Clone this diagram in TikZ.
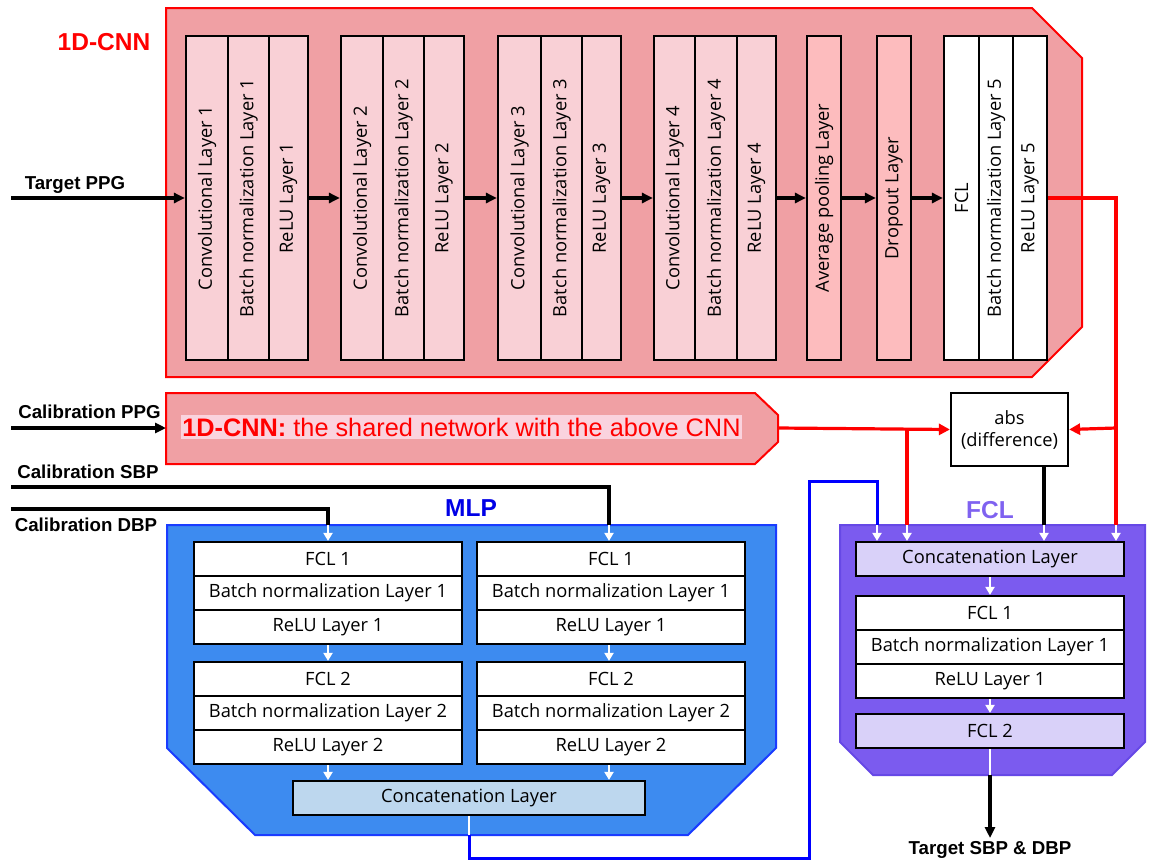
\documentclass[tikz,border=0pt]{standalone}
\usepackage{fontspec}
\setmainfont{Open Sans}
\newfontfamily\arialf{Liberation Sans}
\usetikzlibrary{arrows.meta}
\definecolor{cnnfill}{HTML}{F0A0A4}
\definecolor{cblk}{HTML}{F9D0D6}
\definecolor{cpool}{HTML}{FDBCBE}
\definecolor{chl}{HTML}{FAD3DE}
\definecolor{mlpfill}{HTML}{3D8BF0}
\definecolor{mlpbord}{HTML}{1A3CFF}
\definecolor{mlptxt}{HTML}{0000E6}
\definecolor{ccat}{HTML}{BDD7EE}
\definecolor{fclfill}{HTML}{7B5BEF}
\definecolor{fclbord}{HTML}{6648E6}
\definecolor{fcltxt}{HTML}{7F62F0}
\definecolor{clav}{HTML}{D9D1F9}
\newcommand\regf{\fontsize{18.3}{22}\selectfont}
\newcommand\lblf{\arialf\bfseries\fontsize{18.7}{22}\selectfont}
\newcommand\bigf{\arialf\bfseries\fontsize{24.5}{28}\selectfont}
\begin{document}
\begin{tikzpicture}[x=1pt,y=-1pt,
  blk/.style={draw=black,line width=2.2pt,inner sep=0pt,font=\regf},
  cnnb/.style={blk,fill=cblk,minimum height=324pt},
  poolb/.style={blk,fill=cpool,minimum height=324pt,minimum width=34pt},
  fclb/.style={blk,fill=white,minimum height=324pt},
  mrow/.style={blk,fill=white,minimum width=268pt,minimum height=34pt},
  lavb/.style={blk,fill=clav,minimum width=268pt,minimum height=34pt},
  blarr/.style={line width=3.2pt,-{Triangle[length=11pt,width=10pt]}},
  warr/.style={draw=white,line width=2.4pt,-{Triangle[length=8pt,width=9pt]}},
  redl/.style={draw=red,line width=3.2pt},
  redarr/.style={redl,-{Triangle[length=11pt,width=11pt]}},
  blkl/.style={line width=3.2pt},
  lbl/.style={font=\lblf,inner sep=0pt},
  biglbl/.style={font=\bigf,inner sep=0pt},
]
\useasboundingbox (0,0) rectangle (1153,862);

% ---------- 1D-CNN outer ----------
\draw[draw=red,line width=2pt,fill=cnnfill] (166,8) -- (1032,8) -- (1082,58) -- (1082,327) -- (1032,377) -- (166,377) -- cycle;
\node[biglbl,text=red] (tcnn) at (104,42) {1D-CNN};

\node[cnnb,minimum width=42pt] (c1) at (207,198) {\rotatebox{90}{Convolutional Layer 1}};
\node[cnnb,minimum width=41pt] (c2) at (248.5,198) {\rotatebox{90}{Batch normalization Layer 1}};
\node[cnnb,minimum width=39pt] (c3) at (288.5,198) {\rotatebox{90}{ReLU Layer 1}};
\node[cnnb,minimum width=42pt] (d1) at (362,198) {\rotatebox{90}{Convolutional Layer 2}};
\node[cnnb,minimum width=41pt] (d2) at (403.5,198) {\rotatebox{90}{Batch normalization Layer 2}};
\node[cnnb,minimum width=40pt] (d3) at (444,198) {\rotatebox{90}{ReLU Layer 2}};
\node[cnnb,minimum width=43pt] (e1) at (519.5,198) {\rotatebox{90}{Convolutional Layer 3}};
\node[cnnb,minimum width=41pt] (e2) at (561.5,198) {\rotatebox{90}{Batch normalization Layer 3}};
\node[cnnb,minimum width=39pt] (e3) at (601.5,198) {\rotatebox{90}{ReLU Layer 3}};
\node[cnnb,minimum width=41pt] (g1) at (674.5,198) {\rotatebox{90}{Convolutional Layer 4}};
\node[cnnb,minimum width=42pt] (g2) at (716,198) {\rotatebox{90}{Batch normalization Layer 4}};
\node[cnnb,minimum width=39pt] (g3) at (756.5,198) {\rotatebox{90}{ReLU Layer 4}};
\node[poolb] (ap) at (824,198) {\rotatebox{90}{Average pooling Layer}};
\node[poolb] (dp) at (894,198) {\rotatebox{90}{Dropout Layer}};
\node[fclb,minimum width=35pt] (f1) at (961.5,198) {\rotatebox{90}{FCL}};
\node[fclb,minimum width=34pt] (f2) at (996,198) {\rotatebox{90}{Batch normalization Layer 5}};
\node[fclb,minimum width=34pt] (f3) at (1030,198) {\rotatebox{90}{ReLU Layer 5}};

\coordinate (tin) at (11,198);
\draw[blarr] (tin) -- (c1.west);
\node[lbl] (ltppg) at (75,185) {Target PPG};
\draw[blarr] (c3.east) -- (d1.west);
\draw[blarr] (d3.east) -- (e1.west);
\draw[blarr] (e3.east) -- (g1.west);
\draw[blarr] (g3.east) -- (ap.west);
\draw[blarr] (ap.east) -- (dp.west);
\draw[blarr] (dp.east) -- (f1.west);

% ---------- shared network ----------
\draw[draw=red,line width=2pt,fill=cnnfill] (166,393) -- (755,393) -- (778,415) -- (778,442) -- (755,464) -- (166,464) -- cycle;
\node[fill=chl,text=red,inner xsep=1.5pt,inner ysep=2.5pt,font=\arialf\fontsize{25.3}{28}\selectfont] (sh) at (461.5,427) {\textbf{1D-CNN:} the shared network with the above CNN};
\coordinate (cin) at (11,428);
\coordinate (shr) at (778,428);
\draw[blarr] (cin) -- (166,428);
\node[lbl] (lcppg) at (89.5,412) {Calibration PPG};
\node[lbl] (lcsbp) at (88,472) {Calibration SBP};
\node[lbl] (lcdbp) at (86,525) {Calibration DBP};

% ---------- abs ----------
\node[blk,fill=white,minimum width=117pt,minimum height=73pt,align=center] (abs) at (1009.5,429.5) {abs\\(difference)};

% ---------- MLP ----------
\draw[draw=mlpbord,line width=2pt,fill=mlpfill] (167,525) -- (776,525) -- (776,748) -- (688,835) -- (255,835) -- (167,748) -- cycle;
\node[biglbl,text=mlptxt] (tmlp) at (471,508) {MLP};
\node[mrow] (mA1) at (328,559) {FCL 1};
\node[mrow] (mA2) at (328,593) {Batch normalization Layer 1};
\node[mrow] (mA3) at (328,627) {ReLU Layer 1};
\node[mrow] (mA4) at (328,679) {FCL 2};
\node[mrow] (mA5) at (328,713) {Batch normalization Layer 2};
\node[mrow] (mA6) at (328,747) {ReLU Layer 2};
\node[mrow] (mB1) at (611,559) {FCL 1};
\node[mrow] (mB2) at (611,593) {Batch normalization Layer 1};
\node[mrow] (mB3) at (611,627) {ReLU Layer 1};
\node[mrow] (mB4) at (611,679) {FCL 2};
\node[mrow] (mB5) at (611,713) {Batch normalization Layer 2};
\node[mrow] (mB6) at (611,747) {ReLU Layer 2};
\node[blk,fill=ccat,minimum width=352pt,minimum height=34pt] (mC) at (469,798) {Concatenation Layer};

\coordinate (dbpin) at (11,509);
\coordinate (sbpin) at (11,487);
\coordinate (mtl) at (328,525);
\coordinate (mtr) at (609,525);
\draw[blkl] (dbpin) -- (328,509) -- (mtl);
\draw[blkl] (sbpin) -- (609,487) -- (mtr);
\draw[warr] (mtl) -- (mA1.north -| mtl);
\draw[warr] (mtr) -- (mB1.north -| mtr);
\draw[warr] (mA3.south) -- (mA4.north);
\draw[warr] (mB3.south -| mtr) -- (mB4.north -| mtr);
\draw[warr] (mA6.south) -- (mC.north -| mA6.south);
\draw[warr] (mB6.south -| mtr) -- (mC.north -| mtr);

% ---------- FCL ----------
\draw[draw=fclbord,line width=2pt,fill=fclfill] (840,525) -- (1145,525) -- (1145,742) -- (1112,775) -- (873,775) -- (840,742) -- cycle;
\node[biglbl,text=fcltxt] (tfcl) at (990,510) {FCL};
\node[lavb] (fC) at (990,559) {Concatenation Layer};
\node[mrow] (fA1) at (990,613) {FCL 1};
\node[mrow] (fA2) at (990,647) {Batch normalization Layer 1};
\node[mrow] (fA3) at (990,681) {ReLU Layer 1};
\node[lavb] (fA4) at (990,731) {FCL 2};
\draw[warr] (fC.south) -- (fA1.north);
\draw[warr] (fA3.south) -- (fA4.north);
\coordinate (fbot) at (990,775);
\coordinate (outp) at (990,838);
\draw[draw=white,line width=2.4pt] (fA4.south) -- (fbot);
\draw[blarr] (fbot) -- (outp);
\node[lbl] (ltgt) at (990,850) {Target SBP \& DBP};

% ---------- connectors to FCL ----------
\coordinate (j1) at (907,428);
\coordinate (rj) at (1116,428);
\coordinate (r1) at (1116,198);
\coordinate (ft1) at (877,525);
\coordinate (ft2) at (907,525);
\coordinate (ft3) at (1044,525);
\coordinate (ft4) at (1116,525);
\draw[redarr] (shr) -- (abs.west);
\draw[redl] (j1) -- (ft2);
\draw[redl] (f3.east) -- (r1) -- (ft4);
\draw[redarr] (rj) -- (abs.east);
\draw[blkl] (abs.south -| ft3) -- (ft3);
\coordinate (mbot) at (469,835);
\draw[draw=white,line width=2.4pt] (mC.south) -- (mbot);
\draw[draw=blue,line width=3pt] (mbot) -- (469,858) -- (809,858) -- (809,481) -- (877,481) -- (ft1);
\draw[warr] (ft1) -- (fC.north -| ft1);
\draw[warr] (ft2) -- (fC.north -| ft2);
\draw[warr] (ft3) -- (fC.north -| ft3);
\draw[warr] (ft4) -- (fC.north -| ft4);
\end{tikzpicture}
\end{document}
